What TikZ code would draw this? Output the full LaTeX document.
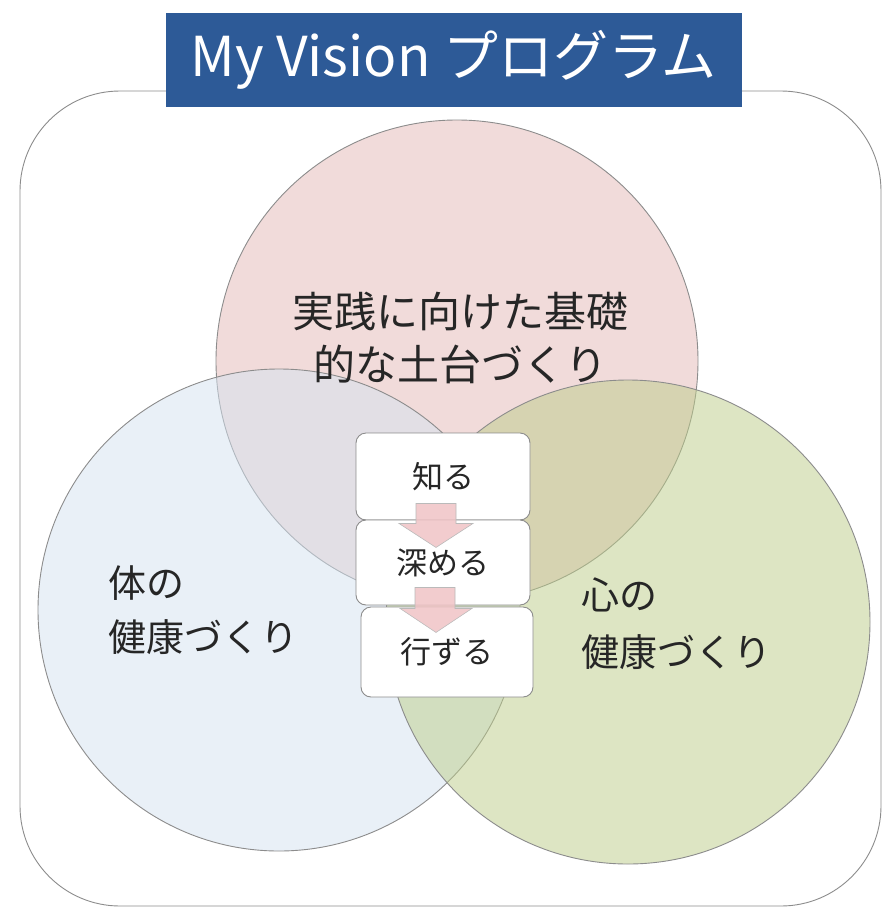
\documentclass[tikz,border=0pt]{standalone}
\usepackage{fontspec}
\newfontfamily\jp{Noto Sans CJK JP}
\definecolor{titleblue}{HTML}{2D5A97}
\definecolor{pinkc}{HTML}{E5B9B7}
\definecolor{bluec}{HTML}{D5E3F1}
\definecolor{greenc}{HTML}{BDCD89}
\definecolor{edgegray}{HTML}{8C8C8C}
\definecolor{txt}{HTML}{262626}
\definecolor{arrowpink}{HTML}{F0C4C6}
\tikzset{
  outerbox/.style={draw=edgegray, line width=0.9pt, rounded corners=100pt},
  titlebox/.style={fill=titleblue, text=white, minimum width=576pt, minimum height=94pt, inner sep=0pt, font=\jp\fontsize{55}{60}\selectfont},
  venn/.style={circle, draw=edgegray, line width=0.9pt, fill opacity=0.5, draw opacity=1, inner sep=0pt},
  lbl/.style={text=txt, inner sep=0pt},
  stepbox/.style={draw=edgegray, line width=0.9pt, fill=white, rounded corners=10pt, minimum width=174pt, minimum height=87pt, inner sep=0pt, text=txt, font=\jp\fontsize{31}{34}\selectfont},
  fatarrow/.style={fill=arrowpink, fill opacity=0.85, draw=edgegray!60, line width=0.6pt, line join=miter}
}
\begin{document}
\begin{tikzpicture}[x=1pt, y=-1pt]
\useasboundingbox (0,0) rectangle (888,908);
\fill[white] (0,0) rectangle (888,908);
\draw[outerbox] (20,91) rectangle (881,906);
\node[titlebox] (title) at (453.5,59.5) {My Vision プログラム};
\node[venn, fill=pinkc, minimum size=482pt] (pink) at (457,361) {};
\node[venn, fill=bluec, minimum size=482pt] (blue) at (279,610) {};
\node[venn, fill=greenc, minimum size=484pt] (green) at (628,622) {};
\node[lbl, align=center, font=\jp\fontsize{42}{53}\selectfont] (pinklbl) at (460,338) {実践に向けた基礎\\的な土台づくり};
\node[lbl, align=left, anchor=west, font=\jp\fontsize{38}{54}\selectfont] (bluelbl) at (108,610) {体の\\健康づくり};
\node[lbl, align=left, anchor=west, font=\jp\fontsize{38}{57}\selectfont] (greenlbl) at (581,624) {心の\\健康づくり};
\node[stepbox] (k1) at (443,476.5) {知る};
\node[stepbox, minimum height=85pt] (k2) at (443,562.5) {深める};
\node[stepbox, minimum width=172pt, minimum height=90pt] (k3) at (447,652) {行ずる};
\filldraw[fatarrow, shift={(k1.south)}] (-27,-17) -- (13,-17) -- (13,3) -- (30,3) -- (-7,27) -- (-44,3) -- (-27,3) -- cycle;
\filldraw[fatarrow, shift={(k2.south)}] (-28,-18) -- (12,-18) -- (12,3) -- (29,3) -- (-7,27) -- (-43,3) -- (-28,3) -- cycle;
\end{tikzpicture}
\end{document}
